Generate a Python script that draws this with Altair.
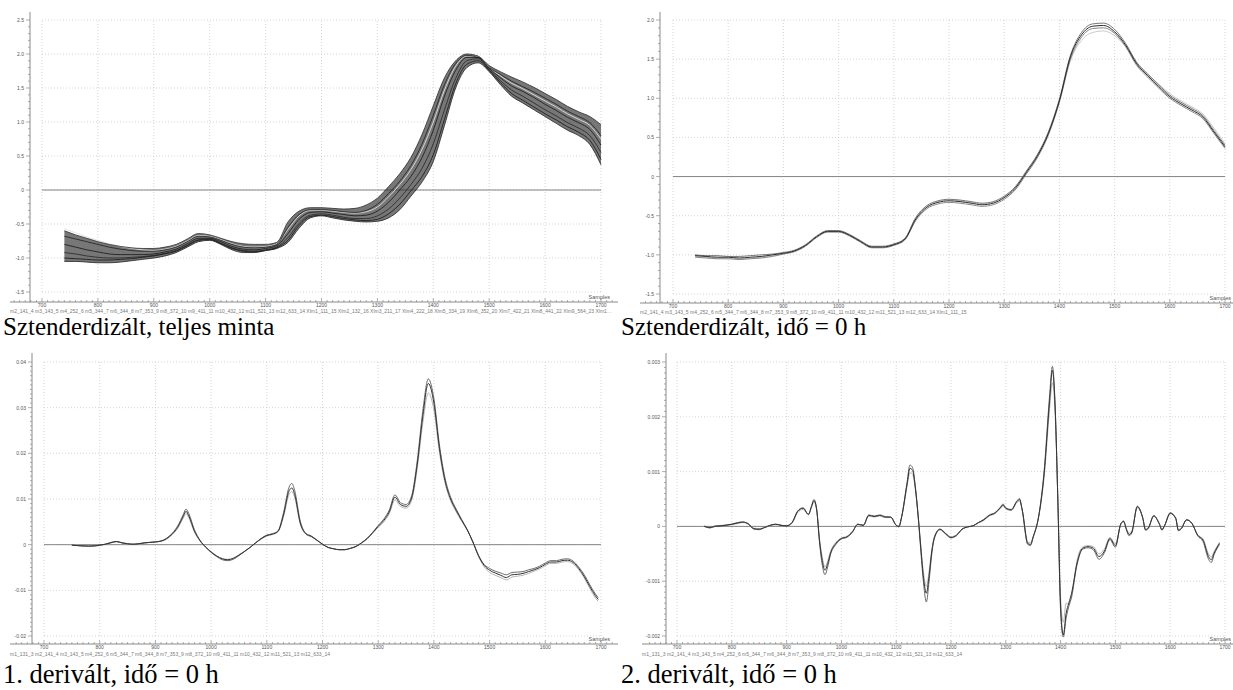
import altair as alt
import pandas as pd

# ------------------------------------------------------------------ data
# Panel 1: Sztenderdizált, teljes minta (sample positions in nm)
P1_X = list(range(740, 1701, 20))
P1_UPPER = [-0.60,-0.66,-0.71,-0.76,-0.80,-0.83,-0.85,-0.86,-0.86,-0.84,
            -0.80,-0.72,-0.64,-0.66,-0.71,-0.76,-0.79,-0.80,-0.80,-0.77,
            -0.47,-0.31,-0.26,-0.26,-0.27,-0.28,-0.27,-0.22,-0.12,0.05,
            0.24,0.48,0.82,1.24,1.65,1.90,2.00,1.97,1.83,1.74,
            1.66,1.59,1.51,1.42,1.33,1.23,1.15,1.08,0.96]
P1_LOWER = [-1.05,-1.05,-1.06,-1.07,-1.07,-1.06,-1.04,-1.02,-1.00,-0.97,
            -0.92,-0.84,-0.76,-0.74,-0.80,-0.88,-0.92,-0.92,-0.89,-0.86,
            -0.77,-0.56,-0.41,-0.38,-0.41,-0.44,-0.46,-0.47,-0.46,-0.41,
            -0.29,-0.09,0.12,0.42,0.95,1.50,1.80,1.87,1.74,1.55,
            1.38,1.28,1.18,1.08,0.98,0.88,0.80,0.67,0.37]
P1_A = [-0.68,-0.72,-0.76,-0.80,-0.84,-0.87,-0.89,-0.90,-0.90,-0.88,
        -0.84,-0.76,-0.68,-0.69,-0.74,-0.80,-0.84,-0.85,-0.84,-0.80,
        -0.55,-0.36,-0.29,-0.29,-0.30,-0.32,-0.33,-0.30,-0.21,-0.05,
        0.13,0.36,0.68,1.10,1.55,1.86,1.98,1.95,1.80,1.70,
        1.60,1.52,1.44,1.35,1.26,1.16,1.08,0.99,0.80]
P1_B = [-0.80,-0.84,-0.88,-0.91,-0.94,-0.95,-0.95,-0.95,-0.94,-0.91,
        -0.87,-0.79,-0.71,-0.71,-0.76,-0.83,-0.87,-0.88,-0.86,-0.82,
        -0.64,-0.43,-0.33,-0.32,-0.34,-0.36,-0.38,-0.37,-0.31,-0.18,
        0.00,0.20,0.48,0.88,1.38,1.76,1.95,1.95,1.79,1.65,
        1.53,1.45,1.36,1.26,1.17,1.07,0.99,0.89,0.66]
P1_C = [-0.92,-0.94,-0.97,-0.99,-1.00,-1.00,-0.99,-0.98,-0.96,-0.93,
        -0.89,-0.81,-0.73,-0.72,-0.78,-0.85,-0.89,-0.90,-0.88,-0.84,
        -0.70,-0.49,-0.37,-0.35,-0.37,-0.40,-0.42,-0.42,-0.38,-0.28,
        -0.12,0.08,0.32,0.68,1.18,1.64,1.90,1.93,1.77,1.61,
        1.47,1.38,1.28,1.18,1.09,0.99,0.91,0.80,0.55]
P1_D = [-1.00,-1.01,-1.02,-1.03,-1.03,-1.02,-1.01,-0.99,-0.97,-0.94,
        -0.90,-0.82,-0.74,-0.73,-0.79,-0.86,-0.90,-0.91,-0.89,-0.85,
        -0.74,-0.52,-0.39,-0.37,-0.39,-0.42,-0.44,-0.45,-0.43,-0.35,
        -0.21,-0.01,0.20,0.52,1.04,1.56,1.85,1.90,1.76,1.58,
        1.42,1.32,1.22,1.12,1.03,0.93,0.85,0.73,0.45]
P1_E = [-0.57,-0.63,-0.69,-0.74,-0.79,-0.83,-0.86,-0.88,-0.89,-0.87,
        -0.83,-0.75,-0.67,-0.68,-0.73,-0.79,-0.83,-0.84,-0.83,-0.79,
        -0.58,-0.38,-0.30,-0.30,-0.31,-0.33,-0.34,-0.32,-0.25,-0.10,
        0.08,0.30,0.60,1.00,1.47,1.82,1.97,1.96,1.80,1.68,
        1.57,1.49,1.40,1.31,1.22,1.12,1.04,0.95,0.75]

# Panel 2: Sztenderdizált, idő = 0 h
P2_X = list(range(740, 1701, 20))
P2_M = [-1.01,-1.02,-1.03,-1.03,-1.04,-1.03,-1.02,-1.00,-0.98,-0.95,
        -0.88,-0.77,-0.70,-0.70,-0.75,-0.83,-0.90,-0.90,-0.87,-0.80,
        -0.54,-0.39,-0.33,-0.31,-0.32,-0.34,-0.36,-0.34,-0.27,-0.15,
        0.05,0.26,0.55,0.97,1.53,1.81,1.92,1.93,1.85,1.68,
        1.44,1.29,1.15,1.02,0.93,0.85,0.76,0.57,0.38]
P2_U = [-1.00,-1.01,-1.01,-1.02,-1.02,-1.01,-1.00,-0.99,-0.97,-0.94,
        -0.87,-0.76,-0.69,-0.69,-0.74,-0.82,-0.89,-0.89,-0.86,-0.79,
        -0.52,-0.37,-0.31,-0.29,-0.30,-0.32,-0.34,-0.32,-0.25,-0.13,
        0.07,0.28,0.57,0.99,1.55,1.84,1.95,1.96,1.88,1.70,
        1.46,1.31,1.17,1.04,0.95,0.87,0.78,0.59,0.40]
P2_L = [-1.03,-1.04,-1.05,-1.05,-1.06,-1.05,-1.04,-1.02,-0.99,-0.96,
        -0.89,-0.78,-0.71,-0.71,-0.76,-0.84,-0.91,-0.91,-0.88,-0.81,
        -0.56,-0.41,-0.35,-0.33,-0.34,-0.36,-0.38,-0.36,-0.29,-0.17,
        0.03,0.24,0.53,0.95,1.50,1.78,1.89,1.90,1.83,1.66,
        1.42,1.27,1.13,1.00,0.91,0.83,0.74,0.55,0.36]
P2_O = [-1.02,-1.03,-1.04,-1.04,-1.05,-1.04,-1.03,-1.01,-0.98,-0.95,
        -0.88,-0.77,-0.70,-0.70,-0.75,-0.83,-0.90,-0.90,-0.87,-0.80,
        -0.54,-0.39,-0.32,-0.30,-0.31,-0.33,-0.35,-0.33,-0.26,-0.14,
        0.06,0.27,0.55,0.96,1.48,1.74,1.84,1.86,1.80,1.66,
        1.45,1.31,1.18,1.06,0.97,0.89,0.80,0.62,0.42]

# Panel 3: 1. derivált (values in units of 1e-3)
P3_X = [750,760,770,780,790,800,810,820,830,840,850,860,870,880,890,900,910,920,930,940,950,
        955,
        960,970,980,990,1000,1010,1020,1030,1040,1050,1060,1070,1080,1090,1100,1110,1120,1130,1140,
        1145,
        1150,1160,1170,1180,1190,1200,1210,1220,1230,1240,1250,1260,1270,1280,1290,1300,1310,1320,
        1330,1340,1350,1360,1370,1380,1390,1400,1410,1420,1430,1440,1450,1460,1470,1480,1490,1500,
        1510,1520,1530,1540,1550,1560,1570,1580,1590,1600,1610,1620,1630,1640,1650,1660,1670,1680,1690,
        1695]
P3_M = [-0.1,-0.2,-0.3,-0.3,-0.3,-0.1,0.1,0.4,0.7,0.4,0.2,0.1,0.2,0.4,0.5,0.6,0.8,1.3,2.3,3.8,6.2,
        7.3,
        6.3,3.0,0.9,-0.5,-1.6,-2.5,-3.1,-3.3,-3.0,-2.3,-1.5,-0.6,0.4,1.3,2.0,2.3,2.9,6.5,11.8,
        12.4,
        11.0,4.8,2.4,1.8,1.0,0.1,-0.6,-0.9,-1.1,-1.1,-0.8,-0.4,0.4,1.3,2.6,4.0,5.3,7.2,
        10.4,8.8,8.4,10.2,17.5,28.0,35.3,31.0,21.0,14.0,10.0,7.5,5.3,3.2,0.6,-2.4,-4.5,-5.6,
        -6.2,-6.7,-7.2,-6.6,-6.5,-6.3,-5.9,-5.5,-5.0,-4.3,-3.8,-3.8,-3.5,-3.4,-3.9,-5.2,-7.0,-9.2,-11.2,
        -12.0]
P3_U = [-0.1,-0.2,-0.2,-0.3,-0.2,-0.1,0.1,0.5,0.7,0.4,0.2,0.1,0.2,0.4,0.5,0.6,0.8,1.4,2.5,4.1,6.6,
        7.8,
        6.8,3.3,1.0,-0.5,-1.7,-2.6,-3.3,-3.5,-3.2,-2.4,-1.5,-0.6,0.4,1.4,2.1,2.4,3.0,7.0,12.6,
        13.4,
        11.9,5.2,2.5,1.9,1.0,0.1,-0.6,-0.9,-1.1,-1.1,-0.8,-0.4,0.4,1.4,2.7,4.2,5.6,7.6,
        10.9,9.2,8.8,10.7,18.3,29.2,36.3,32.0,21.8,14.6,10.4,7.8,5.5,3.3,0.6,-2.3,-4.3,-5.2,
        -5.8,-6.2,-6.6,-6.1,-6.0,-5.9,-5.5,-5.2,-4.7,-4.0,-3.5,-3.5,-3.2,-3.1,-3.6,-4.9,-6.6,-8.8,-10.8,
        -11.6]
P3_L = [-0.1,-0.2,-0.3,-0.4,-0.3,-0.2,0.1,0.4,0.6,0.4,0.2,0.1,0.2,0.3,0.5,0.6,0.7,1.2,2.2,3.6,5.8,
        6.8,
        5.9,2.8,0.8,-0.5,-1.5,-2.4,-3.0,-3.2,-2.9,-2.2,-1.4,-0.6,0.4,1.2,1.9,2.2,2.8,6.1,11.0,
        11.6,
        10.4,4.5,2.3,1.7,0.9,0.1,-0.6,-0.9,-1.1,-1.1,-0.8,-0.4,0.3,1.2,2.5,3.8,5.0,6.8,
        9.8,8.4,8.0,9.7,16.6,26.6,33.2,29.5,20.2,13.5,9.6,7.2,5.1,3.1,0.5,-2.6,-4.8,-6.1,
        -6.7,-7.2,-7.7,-7.1,-6.9,-6.7,-6.3,-5.8,-5.3,-4.6,-4.1,-4.1,-3.8,-3.7,-4.2,-5.5,-7.3,-9.6,-11.7,
        -12.4]

# Panel 4: 2. derivált (values in units of 1e-3)
P4_X = [750,760,770,780,790,800,810,820,830,840,850,860,870,880,890,900,910,920,930,940,
        945,950,955,960,965,970,975,980,
        990,1000,1010,1020,1030,1040,1050,1060,1070,1080,1090,1100,
        1105,1110,
        1120,1125,1130,1135,1140,1145,1150,1155,1160,1165,1170,
        1180,1190,1200,1210,1220,1230,1240,1250,1260,1270,1280,1290,
        1295,1300,1310,1320,1325,1330,1340,1345,1350,1360,1370,1380,1385,1390,1395,1400,1405,1410,1415,1420,
        1430,1440,1450,1460,1470,1480,1490,1500,1510,1515,1520,1525,1530,
        1540,1550,1555,1560,1570,1580,1585,1590,1600,1610,1615,1620,1630,1640,1650,1660,1670,1675,1680,1690]
P4_A = [0.00,-0.02,0.00,0.01,0.02,0.04,0.06,0.08,0.05,-0.04,-0.05,-0.02,0.02,0.04,0.02,0.01,0.07,0.27,0.33,0.22,
        0.35,0.47,0.30,-0.25,-0.62,-0.80,-0.68,-0.49,
        -0.31,-0.22,-0.19,-0.10,0.04,0.02,0.20,0.18,0.20,0.17,0.17,0.02,
        0.00,0.18,
        0.78,1.06,1.02,0.70,0.20,-0.40,-0.95,-1.22,-0.90,-0.45,-0.19,
        -0.05,-0.13,-0.20,-0.16,-0.05,-0.01,0.01,0.07,0.12,0.20,0.24,0.34,
        0.39,0.33,0.30,0.45,0.49,0.30,-0.31,-0.33,-0.19,0.18,0.97,2.30,2.85,2.18,0.48,-1.46,-1.98,-1.59,-1.40,-1.22,
        -0.67,-0.40,-0.37,-0.40,-0.55,-0.45,-0.22,-0.35,0.05,0.09,-0.05,-0.15,-0.10,
        0.36,0.15,-0.06,-0.03,0.19,0.05,-0.06,0.02,0.24,0.15,-0.07,-0.04,0.12,0.05,-0.16,-0.25,-0.55,-0.61,-0.49,-0.31]
P4_B = [0.01,-0.03,0.01,0.01,0.03,0.04,0.07,0.08,0.04,-0.05,-0.06,-0.02,0.02,0.04,0.02,0.01,0.07,0.28,0.34,0.22,
        0.36,0.49,0.30,-0.29,-0.70,-0.88,-0.74,-0.52,
        -0.33,-0.23,-0.20,-0.11,0.04,0.02,0.21,0.19,0.21,0.18,0.17,0.02,
        -0.01,0.18,
        0.82,1.12,1.07,0.72,0.19,-0.46,-1.05,-1.38,-1.00,-0.50,-0.21,
        -0.06,-0.14,-0.21,-0.17,-0.06,-0.01,0.01,0.07,0.13,0.21,0.25,0.35,
        0.41,0.34,0.31,0.46,0.51,0.29,-0.33,-0.35,-0.20,0.19,1.02,2.40,2.92,2.22,0.44,-1.55,-2.02,-1.68,-1.46,-1.28,
        -0.70,-0.42,-0.39,-0.43,-0.60,-0.48,-0.24,-0.38,0.05,0.10,-0.06,-0.17,-0.12,
        0.37,0.15,-0.07,-0.04,0.20,0.05,-0.07,0.02,0.25,0.15,-0.08,-0.05,0.12,0.05,-0.17,-0.28,-0.60,-0.66,-0.52,-0.33]
P4_C = [-0.01,-0.02,0.00,0.02,0.02,0.03,0.05,0.07,0.05,-0.03,-0.04,-0.02,0.01,0.03,0.02,0.01,0.06,0.25,0.31,0.21,
        0.33,0.44,0.28,-0.22,-0.56,-0.74,-0.63,-0.46,
        -0.29,-0.21,-0.18,-0.09,0.03,0.02,0.19,0.17,0.19,0.16,0.16,0.02,
        0.01,0.17,
        0.74,0.98,0.95,0.66,0.21,-0.36,-0.86,-1.10,-0.82,-0.42,-0.18,
        -0.05,-0.12,-0.19,-0.15,-0.05,-0.01,0.01,0.06,0.11,0.19,0.23,0.32,
        0.37,0.32,0.29,0.43,0.46,0.30,-0.28,-0.30,-0.18,0.17,0.90,2.15,2.62,2.05,0.52,-1.30,-1.75,-1.40,-1.42,-1.30,
        -0.62,-0.38,-0.35,-0.37,-0.50,-0.41,-0.20,-0.32,0.04,0.08,-0.04,-0.12,-0.08,
        0.34,0.15,-0.05,-0.02,0.18,0.05,-0.05,0.02,0.23,0.15,-0.06,-0.03,0.12,0.05,-0.15,-0.23,-0.50,-0.56,-0.46,-0.29]

# legend strip labels (sample names)
LEG_FULL = ["m2_141_4", "m3_143_5", "m4_252_6", "m5_344_7", "m6_344_8", "m7_353_9",
            "m8_372_10", "m9_411_11", "m10_432_12", "m11_521_13", "m12_633_14",
            "Xlm1_111_15", "Xlm2_132_16", "Xlm3_211_17", "Xlm4_222_18", "Xlm5_334_19",
            "Xlm6_352_20", "Xlm7_422_21", "Xlm8_441_22", "Xlm9_564_23", "Xlm10_611_24"]
LEG_T0 = ["m2_141_4", "m3_143_5", "m4_252_6", "m5_344_7", "m6_344_8", "m7_353_9",
          "m8_372_10", "m9_411_11", "m10_432_12", "m11_521_13", "m12_633_14", "Xlm1_111_15"]
LEG_DER = ["m1_131_3", "m2_141_4", "m3_143_5", "m4_252_6", "m5_344_7", "m6_344_8", "m7_353_9",
           "m8_372_10", "m9_411_11", "m10_432_12", "m11_521_13", "m12_633_14"]

CAPTIONS = ["Sztenderdizált, teljes minta", "Sztenderdizált, idő = 0 h",
            "1. derivált, idő = 0 h", "2. derivált, idő = 0 h"]
X_TITLE = "Samples"

# ------------------------------------------------------------------ styling / layout
W, H = 1233, 690
FONT = "Liberation Sans"
SERIF = "Liberation Serif"
AX_COL = "#8a8a8a"
LBL_COL = "#555555"
GRID_COL = "#c9c9c9"


def long_df(xs, series, styles, unit=1.0):
    rows = []
    for name, vals in series.items():
        assert len(vals) == len(xs), (name, len(vals), len(xs))
        col, w = styles[name]
        for x, v in zip(xs, vals):
            rows.append({"x": x, "y": v * unit, "s": name, "c": col, "w": w})
    return pd.DataFrame(rows)


def fmt_tick(v, dec):
    if abs(v) < 1e-12:
        return "0"
    return ("-" if v < 0 else "") + f"{abs(v):.{dec}f}"


def build_panel(df, xr, ydom, yr, ymajor, yminor, ydec, yaxis_x, xaxis_y,
                xline, yline, legend, legend_xy, caption, caption_xy, caption_size,
                samples_x, band=None):
    xs = alt.Scale(domain=[700, 1700], range=xr, nice=False, zero=False)
    ys = alt.Scale(domain=ydom, range=yr, nice=False, zero=False)

    step = int(round(ymajor / yminor))
    n_minor = int(round((ydom[1] - ydom[0]) / yminor))
    n_major = int(round((ydom[1] - ydom[0]) / ymajor))
    ymaj_vals = [round(ydom[0] + i * ymajor, 7) for i in range(n_major + 1)]
    ymin_vals = [round(ydom[0] + i * yminor, 7) for i in range(n_minor + 1) if i % step != 0]
    xmaj_vals = list(range(700, 1701, 100))
    xmin_vals = [v for v in range(650, 1721, 10) if v % 100 != 0]

    one = pd.DataFrame({"k": [0]})
    xmaj_df = pd.DataFrame({"v": xmaj_vals, "t": [str(v) for v in xmaj_vals]})
    ymaj_df = pd.DataFrame({"v": ymaj_vals, "t": [fmt_tick(v, ydec) for v in ymaj_vals]})

    # dotted grid
    vgrid = alt.Chart(xmaj_df).mark_rule(
        color=GRID_COL, strokeDash=[1, 2], strokeWidth=0.8).encode(
        x=alt.X("v:Q", scale=xs, axis=None),
        y=alt.YDatum(ydom[0], scale=ys, axis=None),
        y2=alt.Y2Datum(ydom[1]))
    hgrid = alt.Chart(ymaj_df).mark_rule(
        color=GRID_COL, strokeDash=[1, 2], strokeWidth=0.8).encode(
        y=alt.Y("v:Q", scale=ys, axis=None),
        x=alt.XDatum(700, scale=xs, axis=None),
        x2=alt.X2Datum(1700))
    zero = alt.Chart(one).mark_rule(color="#858585", strokeWidth=1).encode(
        y=alt.YDatum(0, scale=ys, axis=None),
        x=alt.XDatum(700, scale=xs, axis=None),
        x2=alt.X2Datum(1700))

    # axes: ticks and labels placed through the scales
    xmin_t = alt.Chart(pd.DataFrame({"v": xmin_vals})).mark_rule(
        color=AX_COL, strokeWidth=0.7).encode(
        x=alt.X("v:Q", scale=xs, axis=None),
        y=alt.value(xaxis_y - 2), y2=alt.value(xaxis_y))
    xmaj_t = alt.Chart(xmaj_df).mark_rule(color=AX_COL, strokeWidth=0.7).encode(
        x=alt.X("v:Q", scale=xs, axis=None),
        y=alt.value(xaxis_y - 4), y2=alt.value(xaxis_y))
    xlab = alt.Chart(xmaj_df).mark_text(
        font=FONT, fontSize=5, color=LBL_COL, align="center", baseline="top").encode(
        x=alt.X("v:Q", scale=xs, axis=None), y=alt.value(xaxis_y + 1.2), text="t:N")
    ymin_t = alt.Chart(pd.DataFrame({"v": ymin_vals})).mark_rule(
        color=AX_COL, strokeWidth=0.7).encode(
        y=alt.Y("v:Q", scale=ys, axis=None),
        x=alt.value(yaxis_x - 2), x2=alt.value(yaxis_x))
    ymaj_t = alt.Chart(ymaj_df).mark_rule(color=AX_COL, strokeWidth=0.7).encode(
        y=alt.Y("v:Q", scale=ys, axis=None),
        x=alt.value(yaxis_x - 4), x2=alt.value(yaxis_x))
    ylab = alt.Chart(ymaj_df).mark_text(
        font=FONT, fontSize=5, color=LBL_COL, align="right", baseline="middle").encode(
        y=alt.Y("v:Q", scale=ys, axis=None), x=alt.value(yaxis_x - 6), text="t:N")
    xtitle = alt.Chart(one).mark_text(
        font=FONT, fontSize=5.5, color=LBL_COL, align="right", baseline="alphabetic",
        text=X_TITLE).encode(x=alt.value(samples_x), y=alt.value(xaxis_y - 3))

    layers = [vgrid, hgrid, zero]

    if band is not None:
        bx, lo, hi = band
        bdf = pd.DataFrame({"x": bx, "lo": lo, "hi": hi})
        layers.append(alt.Chart(bdf).mark_area(
            color="#303030", opacity=0.66, interpolate="monotone").encode(
            x=alt.X("x:Q", scale=xs, axis=None),
            y=alt.Y("lo:Q", scale=ys, axis=None),
            y2="hi:Q"))

    lines = alt.Chart(df).mark_line(interpolate="monotone").encode(
        x=alt.X("x:Q", scale=xs, axis=None),
        y=alt.Y("y:Q", scale=ys, axis=None),
        detail="s:N",
        color=alt.Color("c:N", scale=None),
        strokeWidth=alt.StrokeWidth("w:Q", scale=None))
    layers.append(lines)

    # axis lines
    layers.append(alt.Chart(one).mark_rule(color=AX_COL, strokeWidth=1).encode(
        x=alt.value(xline[0]), x2=alt.value(xline[1]), y=alt.value(xaxis_y)))
    layers.append(alt.Chart(one).mark_rule(color=AX_COL, strokeWidth=1).encode(
        x=alt.value(yaxis_x), y=alt.value(yline[0]), y2=alt.value(yline[1])))
    layers += [xmin_t, xmaj_t, xlab, ymin_t, ymaj_t, ylab, xtitle]

    # legend strip
    layers.append(alt.Chart(one).mark_text(
        align="left", baseline="middle", font=FONT, fontSize=5, color="#7a7a7a",
        limit=604, ellipsis="", text=" ".join(legend)).encode(
        x=alt.value(legend_xy[0]), y=alt.value(legend_xy[1])))

    # caption
    layers.append(alt.Chart(one).mark_text(
        align="left", baseline="alphabetic", font=SERIF, fontSize=caption_size,
        color="#000000", text=caption).encode(
        x=alt.value(caption_xy[0]), y=alt.value(caption_xy[1])))

    return alt.layer(*layers)


# ------------------------------------------------------------------ panels
df1 = long_df(P1_X,
              {"E": P1_E, "U": P1_UPPER, "A": P1_A, "B": P1_B, "C": P1_C, "D": P1_D, "L": P1_LOWER},
              {"E": ("#e0e0e0", 0.9), "U": ("#2c2c2c", 0.8), "A": ("#1e1e1e", 0.8),
               "B": ("#171717", 0.8), "C": ("#262626", 0.8), "D": ("#141414", 0.8),
               "L": ("#202020", 0.8)})
df2 = long_df(P2_X, {"O": P2_O, "L": P2_L, "U": P2_U, "M": P2_M},
              {"O": ("#bdbdbd", 0.8), "L": ("#6a6a6a", 0.8), "U": ("#555555", 0.8),
               "M": ("#2c2c2c", 1.0)})
df3 = long_df(P3_X, {"L": P3_L, "U": P3_U, "M": P3_M},
              {"L": ("#ababab", 0.9), "U": ("#5a5a5a", 0.9), "M": ("#333333", 1.0)},
              unit=1e-3)
df4 = long_df(P4_X, {"C": P4_C, "B": P4_B, "A": P4_A},
              {"C": ("#ababab", 0.9), "B": ("#5a5a5a", 0.9), "A": ("#333333", 1.0)},
              unit=1e-3)

p1 = build_panel(df1, xr=[42, 601], ydom=[-1.5, 2.5], yr=[292, 20], ymajor=0.5, yminor=0.1,
                 ydec=1, yaxis_x=30, xaxis_y=302, xline=[10, 618], yline=[12, 302],
                 legend=LEG_FULL, legend_xy=[10, 311], caption=CAPTIONS[0],
                 caption_xy=[3, 335], caption_size=25, samples_x=610,
                 band=(P1_X, P1_LOWER, P1_UPPER))
p2 = build_panel(df2, xr=[673, 1225], ydom=[-1.5, 2.0], yr=[294, 20], ymajor=0.5, yminor=0.1,
                 ydec=1, yaxis_x=660, xaxis_y=303, xline=[640, 1233], yline=[12, 303],
                 legend=LEG_T0, legend_xy=[640, 312], caption=CAPTIONS[1],
                 caption_xy=[621, 335], caption_size=25, samples_x=1231)
p3 = build_panel(df3, xr=[44, 601], ydom=[-0.02, 0.04], yr=[636, 362], ymajor=0.01,
                 yminor=0.001, ydec=2, yaxis_x=32, xaxis_y=644, xline=[10, 618],
                 yline=[353, 644], legend=LEG_DER, legend_xy=[10, 654],
                 caption=CAPTIONS[2], caption_xy=[3, 683], caption_size=26.5, samples_x=610)
p4 = build_panel(df4, xr=[677, 1225], ydom=[-0.002, 0.003], yr=[636, 362], ymajor=0.001,
                 yminor=0.0001, ydec=3, yaxis_x=666, xaxis_y=644, xline=[642, 1233],
                 yline=[353, 644], legend=LEG_DER, legend_xy=[642, 654],
                 caption=CAPTIONS[3], caption_xy=[621, 683], caption_size=26.5, samples_x=1231)

chart = alt.layer(p1, p2, p3, p4).resolve_scale(
    x="independent", y="independent"
).properties(
    width=W, height=H, padding=0,
    autosize=alt.AutoSizeParams(type="none"),
    background="white",
).configure_view(stroke="transparent")

chart.save("out.html", embed_options={"renderer": "svg", "actions": False})
